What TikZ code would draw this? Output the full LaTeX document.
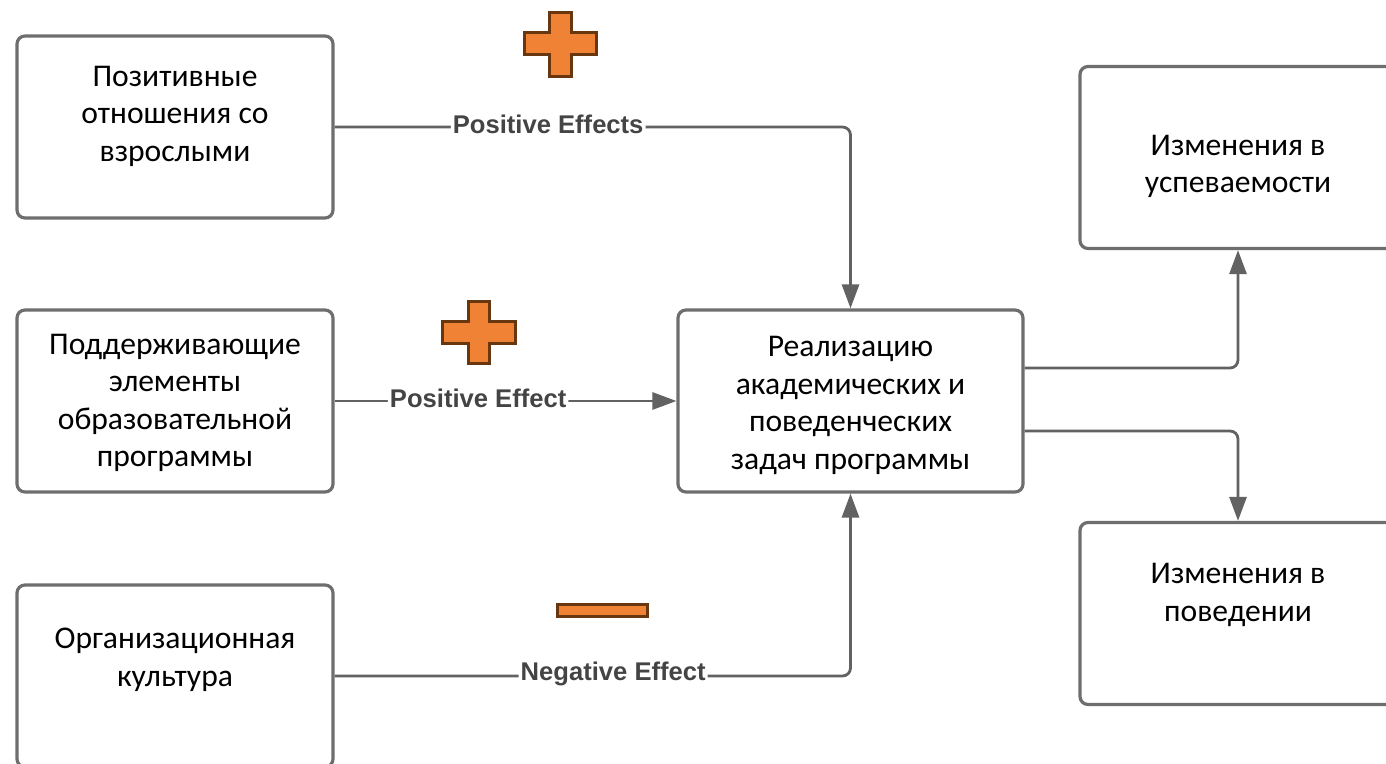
\documentclass[tikz,border=0pt]{standalone}
\usepackage{fontspec}
\setmainfont{Carlito}
\newfontfamily\labelfont{Liberation Sans}
\usetikzlibrary{
    calc,
    positioning,
    arrows.meta
}

\definecolor{boxgray}{RGB}{110,110,110}
\definecolor{linegray}{RGB}{98,98,98}
\definecolor{labelgray}{RGB}{68,68,68}
\definecolor{signorange}{RGB}{239,130,52}
\definecolor{signbrown}{RGB}{105,55,15}

\tikzset{
    box/.style={draw=boxgray, line width=1.6pt, rounded corners=4pt,
        minimum width=158pt, minimum height=91pt, inner sep=0pt},
    boxtext/.style={align=center, inner sep=0pt,
        font=\fontsize{15.8}{18.75}\selectfont},
    link/.style={draw=linegray, line width=1.4pt, rounded corners=4pt, ->},
    effect/.style={fill=white, text=labelgray, inner sep=1pt, yshift=1.2pt,
        font=\labelfont\bfseries\fontsize{12.8}{14}\selectfont},
    sign/.style={fill=signorange, draw=signbrown, line width=1.5pt}
}

\begin{document}
\begin{tikzpicture}[x=0.5pt,y=-0.5pt,>={Triangle[length=12pt,width=8.5pt]}]

\useasboundingbox (0,0) rectangle (1386,764);
\clip (0,0) rectangle (1386,764);
\fill[white] (0,0) rectangle (1386,764);

%====================================================
% Boxes
%====================================================

\node[box] (adults) at (175,127) {};
\node[box] (support) at (175,401) {};
\node[box] (culture) at (175,676) {};
\node[box, minimum width=172.5pt] (goals) at (850.5,401) {};
\node[box] (grades) at (1238,157.5) {};
\node[box] (behav) at (1238,613.5) {};

\node[boxtext] (adultstxt) at (175,116) {Позитивные\\отношения со\\взрослыми};
\node[boxtext] (supporttxt) at (175,403) {Поддерживающие\\элементы\\образовательной\\программы};
\node[boxtext] (culturetxt) at (175,660) {Организационная\\культура};
\node[boxtext] (goalstxt) at (850.5,405.5) {Реализацию\\академических и\\поведенческих\\задач программы};
\node[boxtext] (gradestxt) at (1238,166.5) {Изменения в\\успеваемости};
\node[boxtext] (behavtxt) at (1238,595) {Изменения в\\поведении};

%====================================================
% Connectors
%====================================================

\draw[link] (adults.east) -| node[effect, pos=0.207] {Positive Effects} (goals.north);
\draw[link] (support.east) -- node[effect, pos=0.42] {Positive Effect} (goals.west);
\draw[link] (culture.east) -| node[effect, pos=0.27] {Negative Effect} (goals.south);

\draw[link] ($(goals.east)+(0,-33)$) -| (grades.south);
\draw[link] ($(goals.east)+(0,30)$) -| (behav.north);

%====================================================
% Signs
%====================================================

\draw[sign] (549,13) -- ++(22,0) -- ++(0,20) -- ++(25,0) -- ++(0,22) -- ++(-25,0)
    -- ++(0,22) -- ++(-22,0) -- ++(0,-22) -- ++(-25,0) -- ++(0,-22) -- ++(25,0) -- cycle;
\draw[sign] (468,302) -- ++(21,0) -- ++(0,20) -- ++(26,0) -- ++(0,22) -- ++(-26,0)
    -- ++(0,20) -- ++(-21,0) -- ++(0,-20) -- ++(-26,0) -- ++(0,-22) -- ++(26,0) -- cycle;
\draw[sign] (557,604) rectangle (647,616);

\end{tikzpicture}
\end{document}
